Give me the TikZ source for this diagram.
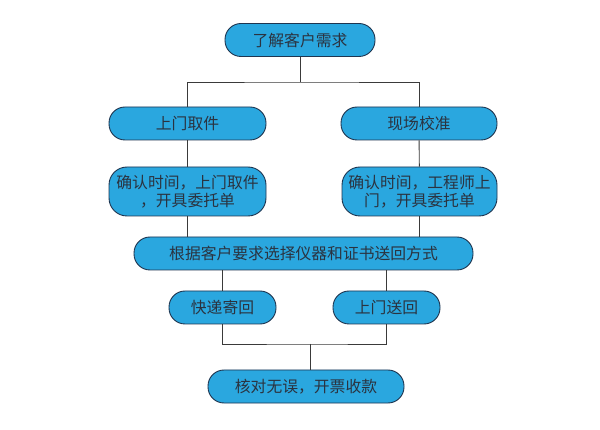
\documentclass[tikz,border=0pt]{standalone}
\usepackage{fontspec}
\setmainfont{Noto Sans CJK SC}
\definecolor{boxfill}{HTML}{2AA7DF}
\definecolor{boxline}{HTML}{1E3550}
\definecolor{boxtext}{HTML}{2A3340}
\definecolor{conn}{HTML}{3A3A3A}
\begin{document}
\begin{tikzpicture}[x=1pt,y=-1pt,
  pill/.style={draw=boxline,line width=0.9pt,fill=boxfill,rounded corners=16pt,
    minimum height=33pt,inner sep=0pt,text=boxtext,font=\fontsize{15.8}{17.5}\selectfont,align=center},
  tallpill/.style={pill,rounded corners=18pt,minimum height=49pt},
  conline/.style={draw=conn,line width=0.9pt}]
\useasboundingbox[fill=white] (0,0) rectangle (600,430);
\node[pill,minimum width=150pt] (top) at (300,40) {了解客户需求};
\node[pill,minimum width=157pt] (a1) at (187.5,123.5) {上门取件};
\node[pill,minimum width=156pt] (b1) at (419,123.5) {现场校准};
\node[tallpill,minimum width=157pt] (a2) at (187.5,191.5) {确认时间，上门取件\\，开具委托单};
\node[tallpill,minimum width=155pt] (b2) at (419.5,191.5) {确认时间，工程师上\\门，开具委托单};
\node[pill,minimum width=339pt] (mid) at (303.5,253.5) {根据客户要求选择仪器和证书送回方式};
\node[pill,minimum width=107pt] (c1) at (222.5,307.5) {快递寄回};
\node[pill,minimum width=107pt] (c2) at (386.5,307.5) {上门送回};
\node[pill,minimum width=196pt] (fin) at (306,386.5) {核对无误，开票收款};
\coordinate (s1) at (300,82);
\coordinate (s2) at (310,344);
\draw[conline] (top) -- (s1);
\draw[conline] (a1.north) |- (s1) -| (b1.north);
\draw[conline] (a1) -- (a2);
\draw[conline] (b1) -- (b2);
\draw[conline] (a2.south) -- (a2.south |- mid.north);
\draw[conline] (b2.south) -- (b2.south |- mid.north);
\draw[conline] (c1.north |- mid.south) -- (c1.north);
\draw[conline] (c2.north |- mid.south) -- (c2.north);
\draw[conline] (c1.south) |- (s2) -| (c2.south);
\draw[conline] (s2) -- (s2 |- fin.north);
\end{tikzpicture}
\end{document}
